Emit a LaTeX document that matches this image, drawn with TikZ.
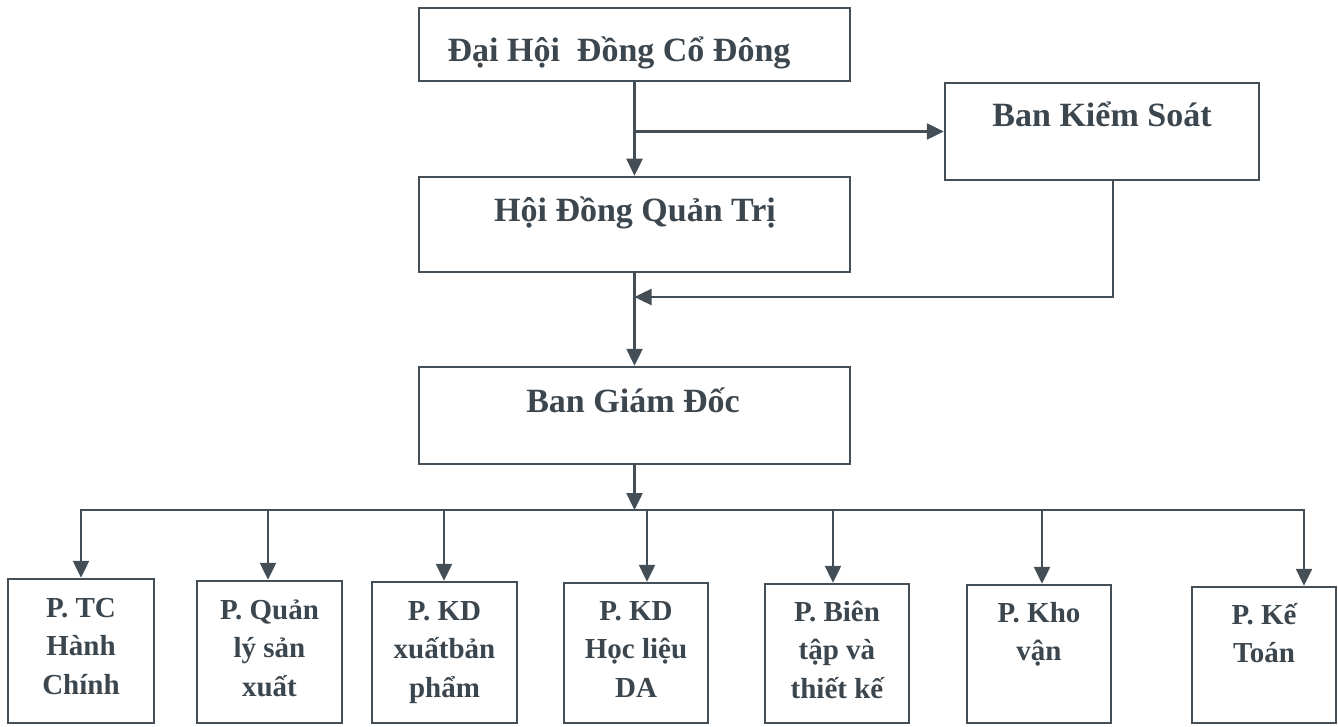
\documentclass[tikz,border=0pt]{standalone}
\usepackage{fontspec}
\setmainfont{Liberation Serif}
\usetikzlibrary{arrows.meta,calc}
\definecolor{ink}{RGB}{68,78,86}
\definecolor{txtc}{RGB}{60,70,78}
\begin{document}
\begin{tikzpicture}[x=1pt,y=-1pt,
  box/.style={draw=ink,line width=2.5pt,inner sep=0pt},
  big/.style={font=\bfseries\fontsize{34}{40}\selectfont,text=txtc,anchor=base,inner sep=0pt},
  small/.style={font=\bfseries\fontsize{29}{38.5}\selectfont,text=txtc,anchor=base,inner sep=0pt,align=center},
  conn/.style={draw=ink,line width=2.5pt},
  arr/.style={conn,-{Triangle[length=17pt,width=16pt]}}]
\useasboundingbox (0,0) rectangle (1338,727);
% main boxes
\node[box,minimum width=431pt,minimum height=73pt] (dhdcd) at (634.5,44.5) {};
\node[box,minimum width=431pt,minimum height=95pt] (hdqt) at (634.5,224.5) {};
\node[box,minimum width=431pt,minimum height=97pt] (bgd) at (634.5,415.5) {};
\node[box,minimum width=314pt,minimum height=97pt] (bks) at (1102,131.5) {};
\node[big] (t0) at (619,62) {Đại Hội \ Đồng Cổ Đông};
\node[big] (t1) at (635,222) {Hội Đồng Quản Trị};
\node[big] (t2) at (633,412) {Ban Giám Đốc};
\node[big] (t3) at (1102,127) {Ban Kiểm Soát};
% bottom boxes
\node[box,minimum width=146pt,minimum height=144pt] (p1) at (81,651) {};
\node[box,minimum width=145pt,minimum height=142pt] (p2) at (269.5,652) {};
\node[box,minimum width=145pt,minimum height=141pt] (p3) at (444.5,652.5) {};
\node[box,minimum width=144pt,minimum height=140pt] (p4) at (636,653) {};
\node[box,minimum width=144pt,minimum height=139pt] (p5) at (837,653.5) {};
\node[box,minimum width=144pt,minimum height=138pt] (p6) at (1039,654) {};
\node[box,minimum width=144pt,minimum height=136pt] (p7) at (1264,655) {};
% (anchor=base sits on the last line's baseline)
\node[small] (s1) at (81,694) {P. TC\\Hành\\Chính};
\node[small] (s2) at (269.5,696) {P. Quản\\lý sản\\xuất};
\node[small] (s3) at (444.5,697) {P. KD\\xuấtbản\\phẩm};
\node[small] (s4) at (636,697) {P. KD\\Học liệu\\DA};
\node[small] (s5) at (837,698) {P. Biên\\tập và\\thiết kế};
\node[small] (s6) at (1039,660.5) {P. Kho\\vận};
\node[small] (s7) at (1264,662.5) {P. Kế\\Toán};
% connectors
\draw[arr] (dhdcd.south) -- (hdqt.north);
\draw[arr] (dhdcd.south |- bks.west) -- (bks.west);
\draw[arr] (hdqt.south) -- (bgd.north);
\coordinate (ret) at (1113,297);
\draw[arr] (bks.south -| ret) -- (ret) -- (ret -| hdqt.south);
\coordinate (bus) at (634.5,510);
\draw[arr] (bgd.south) -- (bus);
\coordinate (d1) at (81,510);
\coordinate (d2) at (268,510);
\coordinate (d3) at (444,510);
\coordinate (d4) at (647,510);
\coordinate (d5) at (833,510);
\coordinate (d6) at (1042,510);
\coordinate (d7) at (1304,510);
\draw[arr] (bus) -- (d1) -- (d1 |- p1.north);
\draw[arr] (bus) -- (d7) -- (d7 |- p7.north);
\foreach \i in {2,3,4,5,6} {\draw[arr] (d\i) -- (d\i |- p\i.north);}
\end{tikzpicture}
\end{document}
